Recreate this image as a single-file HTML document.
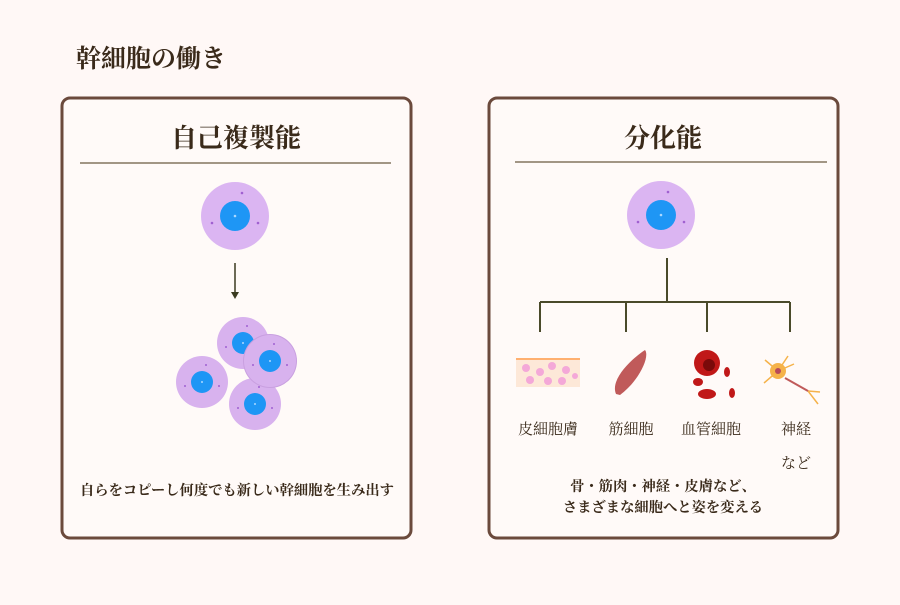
<!DOCTYPE html>
<html><head><meta charset="utf-8"><style>
body{margin:0;background:#fff8f6;}
svg text{font-family:"Liberation Serif","Noto Serif CJK SC",serif;fill:#3a2a1a}
</style></head><body>
<svg width="900" height="600" viewBox="0 0 900 600" xmlns="http://www.w3.org/2000/svg">
<rect width="900" height="600" fill="#fff8f6"/>
<text x="76" y="67" font-size="25" font-weight="bold">幹細胞の働き</text>
<rect x="62" y="98" width="349" height="440" rx="8" fill="#fffaf8" stroke="#6b4a3c" stroke-width="3"/>
<rect x="489" y="98" width="349" height="440" rx="8" fill="#fffaf8" stroke="#6b4a3c" stroke-width="3"/>
<text x="236" y="147" font-size="26" font-weight="bold" text-anchor="middle">自己複製能</text>
<text x="663" y="147" font-size="26" font-weight="bold" text-anchor="middle">分化能</text>
<line x1="80" y1="163" x2="391" y2="163" stroke="#6b5a40" stroke-width="1.2"/>
<line x1="515" y1="162" x2="827" y2="162" stroke="#6b5a40" stroke-width="1.2"/>
<defs>
<g id="cell"><circle r="34" fill="#dbb5f2"/><circle r="15" fill="#1e96f5"/><circle r="1.3" fill="#aad8ff"/><circle cx="7" cy="-23" r="1.3" fill="#a060d0"/><circle cx="-23" cy="7" r="1.3" fill="#a060d0"/><circle cx="23" cy="7" r="1.3" fill="#a060d0"/></g>
<g id="sc"><circle r="26" fill="#d8b2ee"/><circle r="11" fill="#1e96f5"/><circle r="1" fill="#aad8ff"/><circle cx="4" cy="-17" r="1" fill="#a060d0"/><circle cx="-17" cy="4" r="1" fill="#a060d0"/><circle cx="17" cy="4" r="1" fill="#a060d0"/></g>
</defs>
<use href="#cell" x="235" y="216"/>
<use href="#cell" x="661" y="215"/>
<line x1="235" y1="263" x2="235" y2="293" stroke="#3a3a20" stroke-width="1.5"/>
<path d="M231 292 L239 292 L235 299 Z" fill="#3a3a20"/>
<use href="#sc" x="243" y="343"/>
<use href="#sc" x="202" y="382"/>
<use href="#sc" x="255" y="404"/>
<circle cx="270" cy="361" r="27" fill="#c9a0e0"/>
<use href="#sc" x="270" y="361"/>
<g stroke="#4a4a2a" stroke-width="2" fill="none">
<line x1="667" y1="258" x2="667" y2="302"/>
<line x1="540" y1="302" x2="790" y2="302"/>
<line x1="540" y1="302" x2="540" y2="332"/>
<line x1="626" y1="302" x2="626" y2="332"/>
<line x1="707" y1="302" x2="707" y2="332"/>
<line x1="790" y1="302" x2="790" y2="332"/>
</g>
<rect x="516" y="358" width="64" height="2" fill="#ffb070"/>
<rect x="516" y="360" width="64" height="27" fill="#fde8d8"/>
<g fill="#f4a8d8"><circle cx="526" cy="368" r="4"/><circle cx="540" cy="372" r="4"/><circle cx="552" cy="366" r="4"/><circle cx="566" cy="370" r="4"/><circle cx="530" cy="380" r="4"/><circle cx="548" cy="381" r="4"/><circle cx="562" cy="381" r="4"/><circle cx="575" cy="376" r="3"/></g>
<path d="M616 394 C610 380 630 360 645 350 C650 356 640 380 620 395 Z" fill="#c05a5a"/>
<circle cx="707" cy="363" r="13" fill="#c01818"/><circle cx="709" cy="365" r="6" fill="#7a0a0a"/>
<ellipse cx="707" cy="394" rx="9" ry="5" fill="#c01818"/><ellipse cx="698" cy="382" rx="5" ry="4" fill="#c01818"/><ellipse cx="727" cy="372" rx="3" ry="5" fill="#c01818"/><ellipse cx="732" cy="393" rx="3" ry="5" fill="#c01818"/>
<g stroke="#f5b24a" stroke-width="1.5"><line x1="778" y1="371" x2="765" y2="360"/><line x1="778" y1="371" x2="788" y2="356"/><line x1="778" y1="371" x2="764" y2="383"/><line x1="778" y1="371" x2="794" y2="364"/><line x1="808" y1="391" x2="818" y2="404"/><line x1="808" y1="391" x2="820" y2="392"/></g>
<circle cx="778" cy="371" r="8" fill="#f5b24a"/><circle cx="778" cy="371" r="3" fill="#b84a5a"/>
<line x1="785" y1="378" x2="808" y2="391" stroke="#c05a5a" stroke-width="2"/>
<g font-size="15" text-anchor="middle">
<text x="548" y="434">皮細胞膚</text><text x="631" y="434">筋細胞</text><text x="711" y="434">血管細胞</text><text x="796" y="434">神経</text><text x="796" y="468">など</text>
</g>
<g font-size="14.3" text-anchor="middle" font-weight="bold">
<text x="237" y="495">自らをコピーし何度でも新しい幹細胞を生み出す</text>
<text x="663" y="491">骨・筋肉・神経・皮膚など、</text>
<text x="663" y="512">さまざまな細胞へと姿を変える</text>
</g>
</svg>
</body></html>
